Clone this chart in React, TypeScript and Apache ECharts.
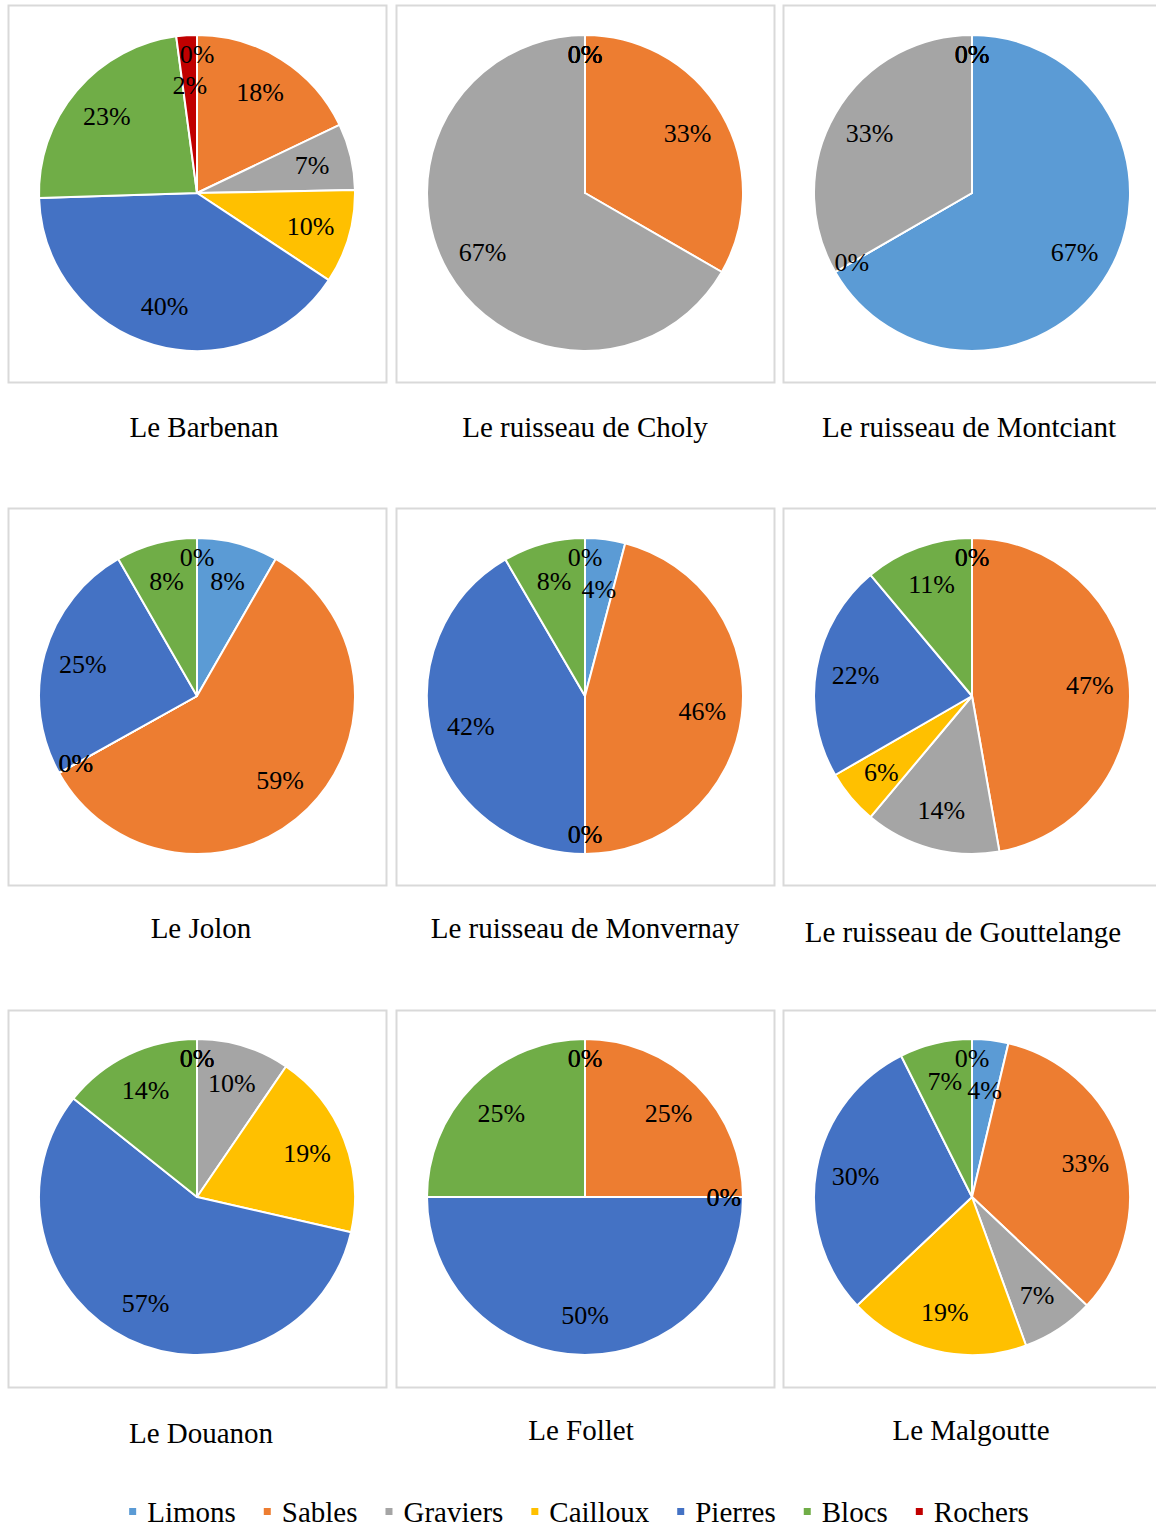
import React, { useEffect, useRef } from "react";
import * as echarts from "echarts";

const categories = ["Limons", "Sables", "Graviers", "Cailloux", "Pierres", "Blocs", "Rochers"];
const colors = ["#5B9BD5", "#ED7D31", "#A5A5A5", "#FFC000", "#4472C4", "#70AD47", "#C00000"];

const sites = [
  "Le Barbenan",
  "Le ruisseau de Choly",
  "Le ruisseau de Montciant",
  "Le Jolon",
  "Le ruisseau de Monvernay",
  "Le ruisseau de Gouttelange",
  "Le Douanon",
  "Le Follet",
  "Le Malgoutte",
];

const barbenan = [0, 17.9, 6.8, 9.6, 40.2, 23.4, 2.1];
const choly = [0, 1, 2, 0, 0, 0, 0];
const montciant = [2, 0, 1, 0, 0, 0, 0];
const jolon = [8.3, 58.6, 0, 0, 24.8, 8.3, 0];
const monvernay = [4.1, 45.9, 0, 0, 41.6, 8.4, 0];
const gouttelange = [0, 17, 5, 2, 8, 4, 0];
const douanon = [0, 0, 2, 4, 12, 3, 0];
const follet = [0, 1, 0, 0, 2, 1, 0];
const malgoutte = [1, 9, 2, 5, 8, 2, 0];

const siteValues = [barbenan, choly, montciant, jolon, monvernay, gouttelange, douanon, follet, malgoutte];

// layout (pixels)
const FONT = "'Liberation Serif', 'Times New Roman', serif";
const panelX = [8, 396, 783];
const panelY = [5, 508, 1010];
const panelW = 378;
const panelH = 377;
const pieCx = [197, 585, 972];
const pieCy = [193, 696, 1197];
const R = 158;
const titlePos = [
  [204, 427], [585, 427], [969, 427],
  [201, 928], [585, 928], [963, 932],
  [201, 1433], [581, 1430], [971, 1430],
];

// label rings: the label sits at the middle of the ring
const labelRings = {
  normal: [0.46, 1],
  small: [0.32, 1],
  zero: [0.72, 1],
};

export default function App() {
  const ref = useRef<HTMLDivElement>(null);

  useEffect(() => {
    if (!ref.current) return;
    const chart = echarts.init(ref.current, undefined, { renderer: "svg" });

    const mainSeries: any[] = [];
    const labelSeries: any[] = [];
    const graphics: any[] = [];

    const labelCommon = {
      type: "pie",
      startAngle: 90,
      clockwise: true,
      silent: true,
      legendHoverLink: false,
      avoidLabelOverlap: false,
      labelLayout: { hideOverlap: false },
      itemStyle: { color: "rgba(0,0,0,0)", borderWidth: 0 },
      emphasis: { disabled: true },
      labelLine: { show: false },
    };
    const labelStyle = {
      show: true,
      position: "inside",
      fontFamily: FONT,
      fontSize: 26,
      color: "#000000",
      formatter: (p: any) => Math.round(p.percent) + "%",
    };

    siteValues.forEach((vals, i) => {
      const col = i % 3;
      const row = Math.floor(i / 3);
      const center = [pieCx[col], pieCy[row]];
      const total = vals.reduce((a, b) => a + b, 0);
      const kind = (v: number) => (v === 0 ? "zero" : (v / total) * 100 < 5 ? "small" : "normal");

      mainSeries.push({
        type: "pie",
        name: sites[i],
        center,
        radius: [0, R],
        startAngle: 90,
        clockwise: true,
        silent: true,
        avoidLabelOverlap: false,
        label: { show: false },
        labelLine: { show: false },
        itemStyle: { borderColor: "#ffffff", borderWidth: 2 },
        emphasis: { disabled: true },
        data: categories.map((c, k) => ({
          name: c,
          value: vals[k],
          itemStyle: { color: colors[k] },
        })),
      });

      (Object.keys(labelRings) as Array<keyof typeof labelRings>).forEach((ringKind) => {
        const ring = labelRings[ringKind];
        labelSeries.push({
          ...labelCommon,
          name: sites[i] + " " + ringKind + " labels",
          center,
          radius: [R * ring[0], R * ring[1]],
          label: labelStyle,
          data: categories.map((c, k) => ({
            name: c,
            value: vals[k],
            label: { show: kind(vals[k]) === ringKind },
          })),
        });
      });

      graphics.push({
        type: "rect",
        z: 0,
        silent: true,
        shape: { x: panelX[col] + 0.5, y: panelY[row] + 0.5, width: panelW, height: panelH },
        style: { fill: "#ffffff", stroke: "#D9D9D9", lineWidth: 2 },
      });
      graphics.push({
        type: "text",
        z: 10,
        silent: true,
        x: titlePos[i][0],
        y: titlePos[i][1],
        style: {
          text: sites[i],
          fontFamily: FONT,
          fontSize: 29,
          fill: "#000000",
          align: "center",
          verticalAlign: "middle",
        },
      });
    });

    chart.setOption({
      animation: false,
      backgroundColor: "#ffffff",
      graphic: { elements: graphics },
      legend: {
        data: categories,
        left: "center",
        top: 1497,
        padding: 0,
        icon: "rect",
        itemWidth: 9,
        itemHeight: 9,
        itemGap: 26,
        selectedMode: false,
        textStyle: { fontFamily: FONT, fontSize: 29, color: "#000000", padding: [0, 0, 0, 5] },
      },
      series: [...mainSeries, ...labelSeries],
    });

    return () => chart.dispose();
  }, []);

  return (
    <div
      ref={ref}
      style={{ position: "fixed", left: 0, top: 0, width: 1156, height: 1526, background: "#fff" }}
    />
  );
}
